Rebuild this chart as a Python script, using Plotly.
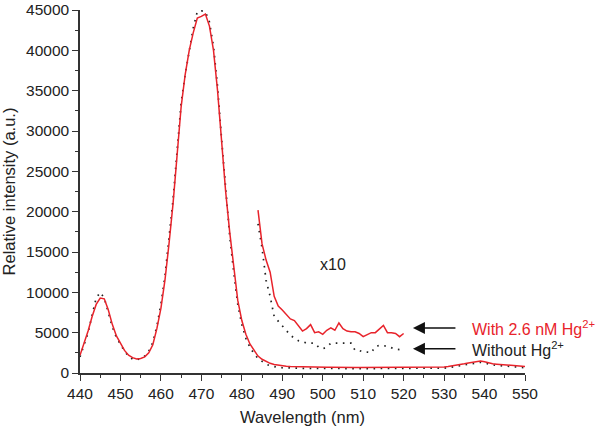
import plotly.graph_objects as go

# ---------------- data ----------------
wavelength = list(range(440, 551))  # nm, 1 nm step

with_hg = [
    2200, 3600, 5200, 7000, 8500, 9300, 9200, 7800, 6000, 4600,   # 440-449
    3600, 2800, 2200, 1900, 1750, 1800, 2000, 2500, 3500, 5500,   # 450-459
    8000, 11500, 16000, 21000, 27000, 33000, 37000, 40000, 42200, 44000,  # 460-469
    44200, 44500, 43000, 40000, 35000, 28500, 22500, 17500, 13000, 9000,  # 470-479
    6500, 4800, 3600, 2800, 2100, 1700, 1400, 1200, 1050, 950,    # 480-489
    880, 830, 800, 780, 760, 750, 740, 730, 720, 720,             # 490-499
    710, 710, 720, 730, 720, 710, 700, 700, 690, 680,             # 500-509
    680, 690, 700, 700, 710, 720, 710, 700, 690, 680,             # 510-519
    680, 680, 690, 700, 700, 690, 680, 690, 700, 720,             # 520-529
    750, 800, 870, 950, 1050, 1150, 1250, 1350, 1450, 1500,       # 530-539
    1400, 1250, 1150, 1100, 1050, 1000, 980, 950, 900, 850,       # 540-549
    800,                                                          # 550
]

without_hg = [
    2000, 3400, 5000, 7200, 9300, 10000, 9300, 7500, 5700, 4400,  # 440-449
    3500, 2700, 2100, 1700, 1600, 1800, 2100, 2700, 3800, 5800,   # 450-459
    8500, 12000, 16500, 21500, 27500, 33500, 37000, 40200, 42800, 44800,  # 460-469
    44900, 44800, 43500, 40500, 35500, 29000, 22500, 17000, 12500, 8500,  # 470-479
    6000, 4300, 3200, 2400, 1800, 1400, 1100, 900, 780, 700,      # 480-489
    650, 620, 600, 600, 590, 580, 580, 570, 570, 560,             # 490-499
    560, 560, 570, 570, 560, 560, 550, 550, 540, 540,             # 500-509
    540, 540, 550, 550, 550, 560, 550, 550, 540, 540,             # 510-519
    530, 530, 540, 540, 550, 540, 540, 550, 560, 580,             # 520-529
    610, 660, 720, 800, 900, 1000, 1100, 1200, 1280, 1320,        # 530-539
    1250, 1100, 1000, 950, 900, 850, 800, 760, 720, 680,          # 540-549
    650,                                                          # 550
]

# x10 magnified region
wl_x10 = list(range(484, 521))
with_hg_x10 = [
    20200, 16000, 14000, 12500, 9500, 8300, 7800, 7200, 6700, 6500,  # 484-493
    5800, 5200, 5500, 6000, 5000, 5100, 4800, 5300, 5600, 5300,      # 494-503
    6200, 5500, 5200, 5100, 5100, 4900, 4500, 4800, 5000, 5000,      # 504-513
    5400, 5900, 5000, 5000, 4900, 4500, 4900,                        # 514-520
]
without_hg_x10 = [
    18500, 15500, 11500, 9500, 7000, 6400, 5800, 5200, 4700, 4300,   # 484-493
    4000, 3900, 3700, 3700, 3700, 3200, 3000, 3200, 3700, 3700,      # 494-503
    3700, 3700, 3700, 3700, 2800, 2800, 2600, 2600, 2500, 3300,      # 504-513
    3400, 3400, 3300, 3100, 2950, 2900, 2850,                        # 514-520
]

x_ticks = [440, 450, 460, 470, 480, 490, 500, 510, 520, 530, 540, 550]
y_ticks = [0, 5000, 10000, 15000, 20000, 25000, 30000, 35000, 40000, 45000]
y_tick_labels = ["0", "5000", "10000", "15000", "20000", "25000", "30000", "35000", "40000", "45000"]

RED = "#e8232b"
DOT = "1.6px,5.5px"
FONT = "Liberation Sans, Arial, sans-serif"

fig = go.Figure()
fig.add_trace(go.Scatter(x=wavelength, y=without_hg, mode="lines",
                         line=dict(color="#222222", width=1.7, dash=DOT), showlegend=False))
fig.add_trace(go.Scatter(x=wavelength, y=with_hg, mode="lines",
                         line=dict(color=RED, width=1.5), showlegend=False))
fig.add_trace(go.Scatter(x=wl_x10, y=without_hg_x10, mode="lines",
                         line=dict(color="#222222", width=1.7, dash=DOT), showlegend=False))
fig.add_trace(go.Scatter(x=wl_x10, y=with_hg_x10, mode="lines",
                         line=dict(color=RED, width=1.5), showlegend=False))

# annotations
fig.add_annotation(x=502.5, y=13400, text="x10", showarrow=False,
                   font=dict(size=16, color="#222222", family=FONT))
fig.add_annotation(x=522.3, y=5580, ax=44, ay=0, text="", showarrow=True,
                   arrowhead=2, arrowsize=1.6, arrowwidth=1.5, arrowcolor="#111111")
fig.add_annotation(x=522.3, y=3000, ax=44, ay=0, text="", showarrow=True,
                   arrowhead=2, arrowsize=1.6, arrowwidth=1.5, arrowcolor="#111111")
fig.add_annotation(x=536.3, y=5580, text="With 2.6 nM Hg<sup>2+</sup>", showarrow=False,
                   xanchor="left", yanchor="middle",
                   font=dict(size=16, color=RED, family=FONT))
fig.add_annotation(x=536.3, y=3000, text="Without Hg<sup>2+</sup>", showarrow=False,
                   xanchor="left", yanchor="middle",
                   font=dict(size=16, color="#222222", family=FONT))

axis_common = dict(showline=True, linecolor="#333333", linewidth=1.5,
                   ticks="outside", ticklen=6, tickwidth=1.3, tickcolor="#333333",
                   showgrid=False, zeroline=False, automargin=False,
                   tickfont=dict(size=15.5, color="#222222", family=FONT))

fig.update_xaxes(range=[440, 550], tickvals=x_ticks,
                 minor=dict(ticks="outside", ticklen=3, tickwidth=1.2, tickcolor="#333333", dtick=5),
                 title=dict(text="Wavelength (nm)", font=dict(size=16.5, color="#222222", family=FONT),
                            standoff=10),
                 **axis_common)
fig.update_yaxes(range=[0, 45000], tickvals=y_ticks, ticktext=y_tick_labels,
                 minor=dict(ticks="outside", ticklen=3, tickwidth=1.2, tickcolor="#333333", dtick=2500),
                 title=dict(text="Relative intensity (a.u.)", font=dict(size=16.5, color="#222222", family=FONT),
                            standoff=8),
                 **axis_common)

fig.update_layout(width=602, height=432, margin=dict(l=80, r=77, t=10, b=59),
                  plot_bgcolor="white", paper_bgcolor="white",
                  font=dict(family=FONT))

fig.write_html("out.html", config={"displayModeBar": False},
               post_script="document.body.style.margin='0';")
